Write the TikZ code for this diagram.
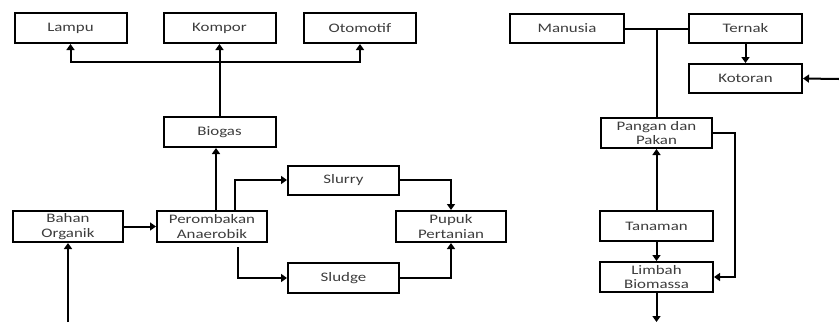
\documentclass[tikz,border=0pt]{standalone}
\usepackage{fontspec}
\setmainfont{Carlito}[FakeStretch=1.3]
\usetikzlibrary{arrows.meta}
\definecolor{txt}{HTML}{3C3C3C}
\tikzset{
  box/.style={draw=black, line width=2pt, minimum width=112pt, minimum height=30pt,
    inner sep=0pt, align=center, text=txt, font=\fontsize{13}{14.5}\selectfont},
  arr/.style={line width=2pt, -{Triangle[length=6pt,width=8pt]}},
  ln/.style={line width=2pt}
}
\begin{document}
\begin{tikzpicture}[x=1pt,y=-1pt]
\useasboundingbox (0,0) rectangle (839,322);
% left part
\node[box] (lampu) at (70.5,28) {Lampu};
\node[box] (kompor) at (219.5,28) {Kompor};
\node[box] (otomotif) at (360,28) {Otomotif};
\node[box] (biogas) at (219.5,132) {Biogas};
\node[box, minimum width=110pt, minimum height=31pt] (bahan) at (68,226.5) {Bahan\\Organik};
\node[box, minimum width=110pt, minimum height=31pt] (perombakan) at (212,226.5) {Perombakan\\Anaerobik};
\node[box, minimum width=111pt, minimum height=29pt] (slurry) at (343.5,180) {Slurry};
\node[box, minimum width=110pt, minimum height=31pt] (pupuk) at (451,226.5) {Pupuk\\Pertanian};
\node[box, minimum width=111pt] (sludge) at (343.5,278) {Sludge};
\coordinate (j1) at (219.5,62);
\coordinate (bin) at (68,322);
% right part
\node[box, minimum width=114pt, minimum height=29pt] (manusia) at (567,28.5) {Manusia};
\node[box, minimum width=113pt, minimum height=29pt] (ternak) at (745.5,28.5) {Ternak};
\node[box, minimum width=113pt, minimum height=29pt] (kotoran) at (745.5,78.5) {Kotoran};
\node[box, minimum width=111pt] (pangan) at (656.5,133) {Pangan dan\\Pakan};
\node[box, minimum width=113pt] (tanaman) at (656.5,226) {Tanaman};
\node[box, minimum width=113pt] (limbah) at (656.5,277) {Limbah\\Biomassa};
\coordinate (kin) at (839,79);
\coordinate (lout) at (656.5,322);
% left connectors
\draw[arr] (biogas.north) -- (kompor.south);
\draw[arr] (j1) -| (lampu.south);
\draw[arr] (j1) -| (otomotif.south);
\draw[arr] ([xshift=4pt]perombakan.north) -- ([xshift=4pt]perombakan.north |- biogas.south);
\draw[arr] (bahan.east) -- (perombakan.west);
\draw[arr] ([xshift=23pt]perombakan.north) |- (slurry.west);
\draw[arr] (slurry.east) -| (pupuk.north);
\draw[arr] ([xshift=26pt,yshift=-4pt]perombakan.south) |- (sludge.west);
\draw[arr] (sludge.east) -| (pupuk.south);
\draw[arr] (bin) -- (bahan.south);
% right connectors
\draw[ln] (manusia.east) -- (ternak.west);
\draw[ln] (manusia.east -| pangan.north) -- (pangan.north);
\draw[arr] (ternak.south) -- (kotoran.north);
\draw[arr] (kin) -- (kotoran.east);
\draw[arr] (tanaman.north) -- (pangan.south);
\draw[arr] (tanaman.south) -- (limbah.north);
\draw[arr] (pangan.east) -- ++(22,0) |- (limbah.east);
\draw[arr] (limbah.south) -- (lout);
\end{tikzpicture}
\end{document}
